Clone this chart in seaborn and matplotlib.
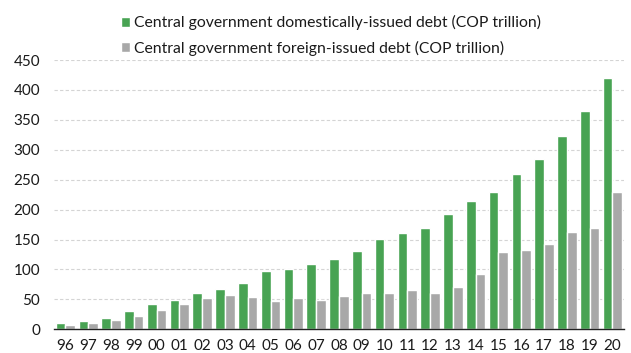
import matplotlib
matplotlib.use("Agg")
import matplotlib.pyplot as plt
import seaborn as sns
import pandas as pd
import numpy as np
from matplotlib.ticker import FixedLocator

years = ["96", "97", "98", "99", "00", "01", "02", "03", "04", "05", "06", "07", "08",
         "09", "10", "11", "12", "13", "14", "15", "16", "17", "18", "19", "20"]
domestic = [10, 14.5, 19.5, 30.5, 43, 49.5, 61, 68, 77.5, 97.5, 101.5, 109, 117.5,
            131, 150.5, 161.5, 169, 193, 215, 230, 260, 285, 323, 364, 419.5]
foreign = [6.5, 10, 15.5, 22, 31.5, 42, 53, 57, 54, 47, 53, 48.5, 55.5,
           60.5, 60.5, 65.5, 61, 70.5, 92, 128.5, 133, 142, 163, 168.5, 229]
series_names = ["Central government domestically-issued debt (COP trillion)",
                "Central government foreign-issued debt (COP trillion)"]
yticks = [0, 50, 100, 150, 200, 250, 300, 350, 400, 450]

df = pd.DataFrame({
    "year": years * 2,
    "value": domestic + foreign,
    "series": [series_names[0]] * len(years) + [series_names[1]] * len(years),
})

sns.set_theme(style="white")
plt.rcParams["font.family"] = ["Lato", "DejaVu Sans"]

fig = plt.figure(figsize=(6.31, 3.53), dpi=100)
ax = fig.add_axes([0.0856, 0.067, 0.903, 0.763])

sns.barplot(data=df, x="year", y="value", hue="series", order=years,
            hue_order=series_names, palette=["#48a353", "#a8a8a8"],
            width=0.85, gap=0.0, saturation=1, ax=ax, legend=True)

ax.set_ylim(0, 450)
ax.set_xlim(-0.5, len(years) - 0.5)
ax.set_yticks(yticks)
ax.yaxis.grid(True, linestyle=(0, (3, 2)), color="#d4d4d4", linewidth=0.8)
ax.set_axisbelow(True)
ax.set_xlabel("")
ax.set_ylabel("")

for side in ["left", "right", "top"]:
    ax.spines[side].set_visible(False)
ax.spines["bottom"].set_color("#222222")
ax.spines["bottom"].set_linewidth(1.0)

# tick marks sit between year groups; labels sit under each group
ax.xaxis.set_minor_locator(FixedLocator(np.arange(-0.5, len(years), 1.0)))
ax.tick_params(axis="x", which="minor", length=5, width=1.0, color="#222222", direction="out")
ax.tick_params(axis="x", which="major", length=0, pad=7, labelsize=11, labelcolor="#1a1a1a")
ax.tick_params(axis="y", length=0, pad=10, labelsize=11, labelcolor="#1a1a1a")

leg = ax.legend(loc="upper left", bbox_to_anchor=(0.106, 1.19), frameon=False,
                fontsize=11.3, handlelength=0.6, handleheight=0.6, handletextpad=0.25,
                labelspacing=0.68, borderaxespad=0)
for t in leg.get_texts():
    t.set_color("#1a1a1a")

fig.savefig("out.png", dpi=100)
